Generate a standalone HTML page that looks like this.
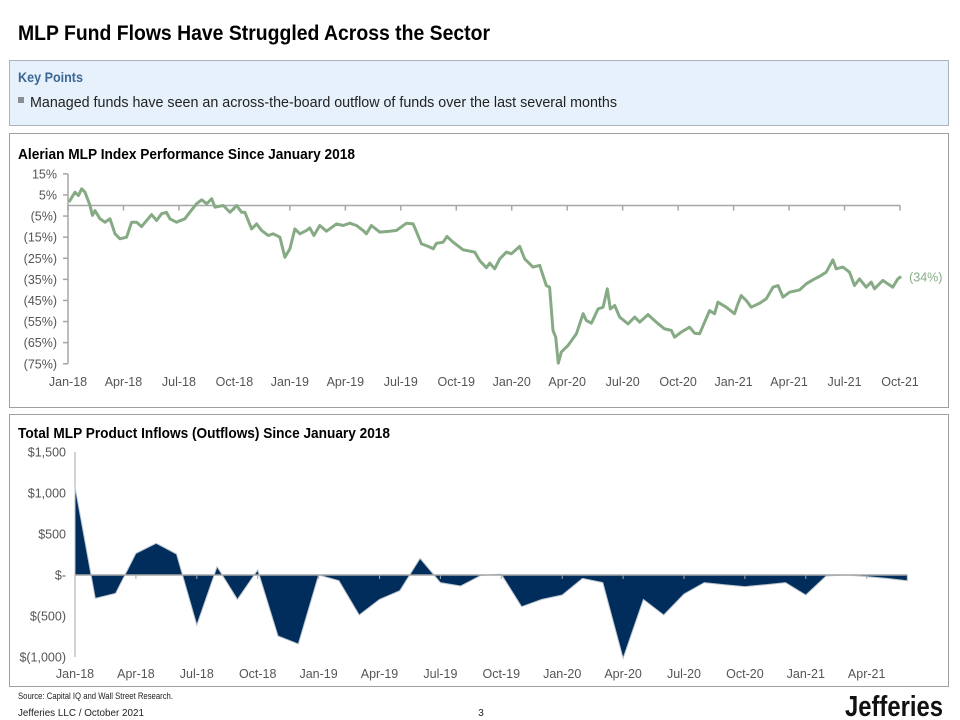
<!DOCTYPE html>
<html><head><meta charset="utf-8"><style>
html,body{margin:0;padding:0;background:#fff;}
svg{display:block;font-family:"Liberation Sans",sans-serif;}
</style></head><body>
<svg id="root" width="960" height="720" viewBox="0 0 960 720" xmlns="http://www.w3.org/2000/svg">
<text x="18" y="40" font-size="21" font-weight="bold" fill="#000" textLength="472" lengthAdjust="spacingAndGlyphs">MLP Fund Flows Have Struggled Across the Sector</text>
<rect x="9.5" y="60.5" width="939" height="65" fill="#e6f1fb" stroke="#a9b4bf"/>
<text x="18" y="82" font-size="14" font-weight="bold" fill="#3b6895" textLength="65" lengthAdjust="spacingAndGlyphs">Key Points</text>
<rect x="18" y="97" width="6" height="6" fill="#8a8f95"/>
<text x="30" y="107" font-size="14.5" fill="#222" textLength="587" lengthAdjust="spacingAndGlyphs">Managed funds have seen an across-the-board outflow of funds over the last several months</text>

<rect x="9.5" y="133.5" width="939" height="274" fill="#fff" stroke="#a0a0a0"/>
<text x="18" y="159" font-size="15" font-weight="bold" fill="#000" textLength="337" lengthAdjust="spacingAndGlyphs">Alerian MLP Index Performance Since January 2018</text>
<g id="top"></g>

<rect x="9.5" y="414.5" width="939" height="272" fill="#fff" stroke="#a0a0a0"/>
<text x="18" y="438" font-size="15" font-weight="bold" fill="#000" textLength="372" lengthAdjust="spacingAndGlyphs">Total MLP Product Inflows (Outflows) Since January 2018</text>
<g id="bot"></g>

<text x="18" y="699" font-size="9" fill="#222" textLength="155" lengthAdjust="spacingAndGlyphs">Source: Capital IQ and Wall Street Research.</text>
<text x="18" y="716" font-size="10" fill="#222" textLength="126" lengthAdjust="spacingAndGlyphs">Jefferies LLC  /  October 2021</text>
<text x="481" y="716" font-size="10" fill="#222" text-anchor="middle">3</text>
<text x="845" y="716" font-size="29" font-weight="bold" fill="#111" textLength="98" lengthAdjust="spacingAndGlyphs">Jefferies</text>
</svg>
<script>
// ===== Top chart data (month offset from Jan-18, % return) =====
const perfMonths = [0.05,0.38,0.56,0.74,0.92,1.19,1.32,1.46,1.73,2.00,2.27,2.54,2.81,3.17,3.44,3.71,3.98,4.52,4.79,5.06,5.33,5.51,5.87,6.32,6.59,6.95,7.23,7.50,7.77,7.95,8.40,8.76,9.12,9.39,9.57,9.93,10.20,10.47,10.83,11.10,11.46,11.73,12.00,12.27,12.54,12.90,13.08,13.30,13.62,13.98,14.52,14.88,15.24,15.60,15.96,16.14,16.41,16.86,17.41,17.77,18.31,18.67,19.12,19.48,19.75,19.93,20.29,20.50,20.83,21.37,22.00,22.27,22.63,22.81,23.08,23.35,23.71,23.98,24.43,24.70,25.15,25.51,25.87,26.05,26.23,26.38,26.52,26.68,27.04,27.50,27.86,28.04,28.31,28.67,28.94,29.17,29.33,29.57,29.84,30.29,30.65,30.92,31.37,31.82,32.27,32.63,32.81,33.17,33.62,33.89,34.16,34.70,34.97,35.15,35.60,36.05,36.23,36.41,36.68,36.95,37.41,37.77,38.13,38.40,38.67,39.03,39.57,39.93,40.29,40.65,41.01,41.37,41.55,41.91,42.27,42.54,42.81,43.17,43.44,43.62,44.07,44.61,44.88,45.06];
const perfValues = [1.6,6.3,4.7,7.9,6.3,0,-4.7,-2.4,-6.3,-7.9,-6.3,-13.4,-15.8,-15,-7.9,-7.9,-10,-4.3,-7.1,-3.9,-3.2,-6.3,-7.9,-6.3,-3.2,0.8,2.7,0.8,3.2,-0.8,0,-3.2,0,-3.2,-3.2,-11.1,-8.7,-11.8,-14.2,-13.4,-15,-24.5,-20.5,-11.1,-13.4,-11.8,-10.6,-14.2,-9.5,-12.2,-8.7,-9.5,-8.4,-9.5,-11.8,-13.4,-9.5,-12.6,-12.2,-11.8,-8.4,-8.7,-18.2,-19.4,-20.5,-17.9,-17.4,-14.7,-17.4,-21,-22.1,-26.1,-29.5,-27.3,-30,-25.3,-22.1,-22.9,-19.4,-25.3,-29.2,-28.4,-37.9,-38.7,-59.2,-62.4,-74.7,-69.5,-66.4,-60.8,-51.3,-54.5,-55.8,-49,-48.2,-39.5,-49,-47.4,-52.9,-56.1,-52.9,-55.3,-51.7,-55.3,-58.5,-59.2,-62.4,-60,-57.7,-60.5,-60.8,-49.8,-51.3,-45.8,-48.2,-51.3,-46.6,-42.7,-45,-48.2,-46.3,-44.2,-38.7,-37.9,-43.4,-41.1,-40,-37.1,-35.2,-33.6,-31.6,-25.8,-30,-29.2,-31.6,-37.9,-34.8,-38.7,-36.3,-39.5,-35.5,-38.7,-34.8,-33.6];
const perfYTicks = [15,5,-5,-15,-25,-35,-45,-55,-65,-75];
const perfYLabels = ["15%","5%","(5%)","(15%)","(25%)","(35%)","(45%)","(55%)","(65%)","(75%)"];
const perfXLabels = ["Jan-18","Apr-18","Jul-18","Oct-18","Jan-19","Apr-19","Jul-19","Oct-19","Jan-20","Apr-20","Jul-20","Oct-20","Jan-21","Apr-21","Jul-21","Oct-21"];
const perfEndLabel = "(34%)";

// ===== Bottom chart data (monthly flows, $mm, Jan-18 .. Jun-21) =====
const flowValues = [1077,-284,-223,264,386,256,-610,102,-297,61,-744,-841,0,-69,-488,-297,-191,203,-93,-134,-5,10,-386,-297,-244,-41,-93,-1016,-297,-488,-232,-93,-118,-142,-118,-93,-244,-12,0,-20,-41,-69];
const flowYTicks = [1500,1000,500,0,-500,-1000];
const flowYLabels = ["$1,500","$1,000","$500","$-","$(500)","$(1,000)"];
const flowXLabels = ["Jan-18","Apr-18","Jul-18","Oct-18","Jan-19","Apr-19","Jul-19","Oct-19","Jan-20","Apr-20","Jul-20","Oct-20","Jan-21","Apr-21"];

const NS="http://www.w3.org/2000/svg";
function mk(parent,tag,attrs){const e=document.createElementNS(NS,tag);for(const k in attrs)e.setAttribute(k,attrs[k]);parent.appendChild(e);return e;}

// ----- top chart -----
(function(){
  const g=document.getElementById('top');
  const x=m=>68+m*(832/45);
  const y=v=>205.5-v*2.11;
  mk(g,'line',{x1:68,y1:y(15),x2:68,y2:y(-75),stroke:'#a6a6a6','stroke-width':1.5});
  perfYTicks.forEach((v,i)=>{
    mk(g,'line',{x1:63,y1:y(v),x2:68,y2:y(v),stroke:'#a6a6a6','stroke-width':1.5});
    const t=mk(g,'text',{x:57,y:y(v)+4.5,'font-size':12.5,fill:'#555','text-anchor':'end'});
    
    
    t.textContent=perfYLabels[i];
  });
  mk(g,'line',{x1:68,y1:y(0),x2:x(45),y2:y(0),stroke:'#a6a6a6','stroke-width':1.5});
  perfXLabels.forEach((l,i)=>{
    mk(g,'line',{x1:x(i*3),y1:y(0),x2:x(i*3),y2:y(0)+5,stroke:'#a6a6a6','stroke-width':1.5});
    const t=mk(g,'text',{x:x(i*3),y:386,'font-size':12.5,fill:'#555','text-anchor':'middle'});
    
    
    t.textContent=l;
  });
  const d=perfMonths.map((m,i)=>(i?'L':'M')+x(m).toFixed(1)+','+y(perfValues[i]).toFixed(1)).join('');
  const p=mk(g,'path',{d:d,fill:'none',stroke:'#86ab84','stroke-width':3,'stroke-linejoin':'round'});
  
  
  const n=perfMonths.length-1;
  const lt=mk(g,'text',{x:x(perfMonths[n])+8,y:y(perfValues[n])+5,'font-size':12.5,fill:'#86ab84'});
  
  
  lt.textContent=perfEndLabel;
})();

// ----- bottom chart -----
(function(){
  const g=document.getElementById('bot');
  const x=i=>75+i*20.3;
  const y=v=>575-v*0.082;
  mk(g,'line',{x1:75,y1:y(1500),x2:75,y2:y(-1000),stroke:'#a6a6a6','stroke-width':1});
  flowYTicks.forEach((v,i)=>{
    const t=mk(g,'text',{x:66,y:y(v)+4.5,'font-size':12.5,fill:'#555','text-anchor':'end'});
    
    
    t.textContent=flowYLabels[i];
  });
  const n=flowValues.length-1;
  let d='M'+x(0)+','+y(0);
  flowValues.forEach((v,i)=>{d+='L'+x(i).toFixed(1)+','+y(v).toFixed(1);});
  d+='L'+x(n).toFixed(1)+','+y(0)+'Z';
  const a=mk(g,'path',{d:d,fill:'#002d5c',stroke:'#b9c3cc','stroke-width':1});
  
  
  mk(g,'line',{x1:75,y1:y(0),x2:x(n),y2:y(0),stroke:'#a6a6a6','stroke-width':1.5});
  flowXLabels.forEach((l,i)=>{
    mk(g,'line',{x1:x(i*3),y1:y(0),x2:x(i*3),y2:y(0)+4,stroke:'#a6a6a6','stroke-width':1});
    const t=mk(g,'text',{x:x(i*3),y:678,'font-size':12.5,fill:'#555','text-anchor':'middle'});
    
    
    t.textContent=l;
  });
})();
</script>
</body></html>
